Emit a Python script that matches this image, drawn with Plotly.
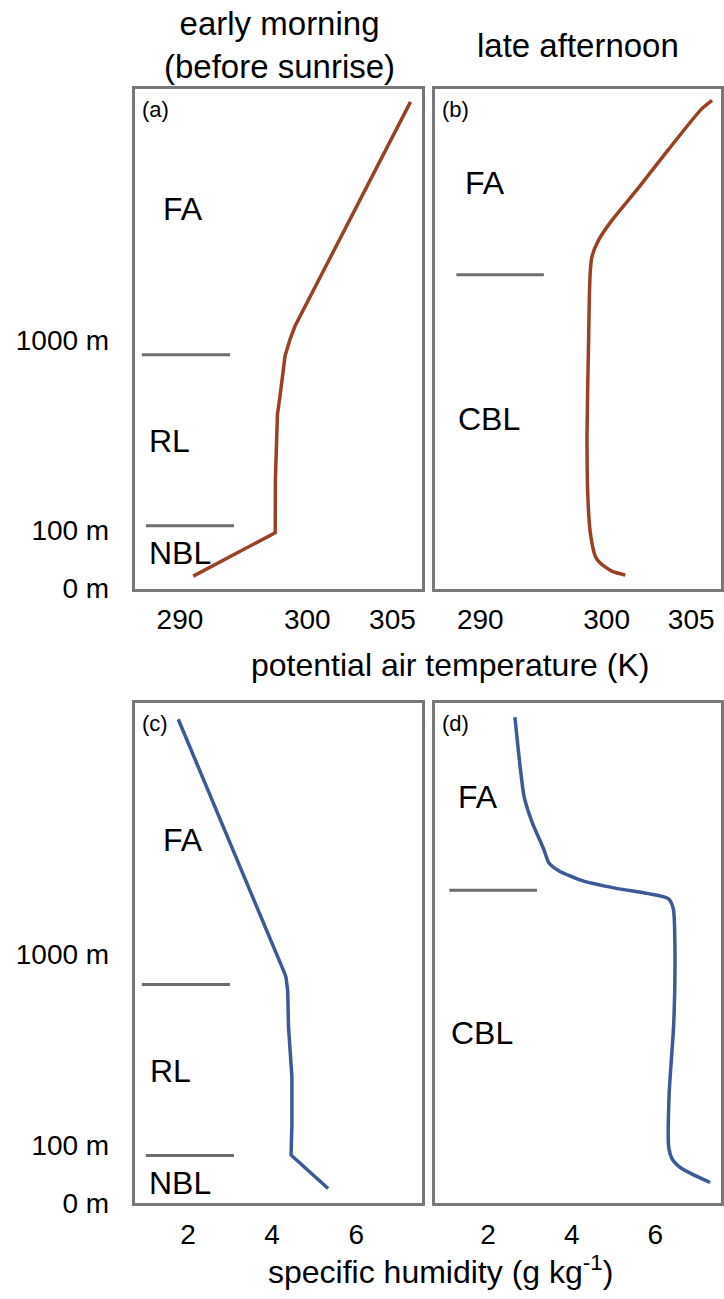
import plotly.graph_objects as go

W, H = 724, 1299

# ---- data (schematic units: height 0-100 spans each panel box) ----
# panel (a): potential temperature, early morning
theta_a = [293.31, 298.12, 298.13, 298.17, 298.25, 298.40, 298.51, 298.70, 298.99, 299.29, 306.06]
z_a = [2.5, 11.2, 21.6, 28.2, 34.8, 38.5, 41.4, 46.6, 49.9, 52.6, 97.4]
# panel (b): potential temperature, late afternoon
theta_b = [301.10, 300.31, 299.63, 299.33, 299.04, 298.90, 298.84, 298.94, 298.98,
           299.04, 299.13, 299.53, 300.31, 301.88, 303.64, 305.59, 306.23]
z_b = [2.7, 3.5, 5.1, 6.5, 11.1, 17.6, 30.8, 50.6, 58.5,
       63.8, 66.4, 69.8, 73.7, 80.2, 87.8, 95.9, 97.7]
# panel (c): specific humidity, early morning
q_c = [5.33, 4.45, 4.47, 4.47, 4.39, 4.37, 4.33, 4.31, 1.77]
z_c = [2.9, 9.6, 15.4, 25.3, 35.2, 42.5, 45.1, 45.7, 96.8]
# panel (d): specific humidity, late afternoon
q_d = [7.31, 6.63, 6.41, 6.32, 6.33, 6.44, 6.47, 6.43, 6.31, 5.83, 5.04,
       4.25, 3.69, 3.45, 3.33, 3.06, 2.86, 2.74, 2.64]
z_d = [4.1, 6.9, 8.7, 11.2, 21.8, 35.9, 50.0, 58.9, 60.9, 61.9, 63.0,
       64.5, 66.5, 68.1, 70.8, 76.0, 81.3, 89.2, 97.2]

# layer boundaries (height, x-start, x-end)
bound_a = [(46.8, 290.29, 295.47), (12.6, 290.53, 295.70)]
bound_b = [(62.8, 291.12, 296.29)]
bound_c = [(43.7, 0.905, 3.00), (9.5, 1.00, 3.095)]
bound_d = [(62.6, 1.071, 3.167)]

# layer labels (text, x, height)
labels_a = [("FA", 292.7, 76.0), ("RL", 291.94, 29.5), ("NBL", 292.53, 7.2)]
labels_b = [("FA", 292.82, 81.1), ("CBL", 293.06, 33.9)]
labels_c = [("FA", 1.88, 72.6), ("RL", 1.588, 26.4), ("NBL", 1.81, 4.0)]
labels_d = [("FA", 1.762, 81.3), ("CBL", 1.857, 34.1)]
panel_tags = ["(a)", "(b)", "(c)", "(d)"]

# tick labels
theta_tick_pos = [292.53, 300, 305]
theta_tick_text = ["290", "300", "305"]
q_tick_pos = [2, 4, 6]
q_tick_text = ["2", "4", "6"]
z_tick_pos = [0.0, 11.6, 49.7]
z_tick_text = ["0 m", "100 m", "1000 m"]

theta_range = [289.88, 306.76]
q_range = [0.738, 7.571]
z_range = [0, 100]

BROWN = "#9a4024"
BLUE = "#3c5a96"
GRAY = "#6e6e6e"
BOX = "#787878"
FONT = "Liberation Sans, Arial, Helvetica, sans-serif"

# panel boxes in pixels (left, right, top, bottom)
boxes = {1: (135, 423, 90, 596), 2: (436, 722, 90, 596),
         3: (135, 423, 712, 1218), 4: (436, 722, 712, 1218)}

fig = go.Figure()

panels = [
    (1, theta_a, z_a, BROWN, bound_a, labels_a, "linear"),
    (2, theta_b, z_b, BROWN, bound_b, labels_b, "spline"),
    (3, q_c, z_c, BLUE, bound_c, labels_c, "linear"),
    (4, q_d, z_d, BLUE, bound_d, labels_d, "spline"),
]

annotations = []
for i, xs, zs, col, bounds, labs, shape in panels:
    sx = "" if i == 1 else str(i)
    xr, yr = "x" + sx, "y" + sx
    fig.add_trace(go.Scatter(x=xs, y=zs, mode="lines", xaxis=xr, yaxis=yr,
                             line=dict(color=col, width=3.5, shape=shape, smoothing=0.6),
                             hoverinfo="skip", showlegend=False))
    for (zb, x0, x1) in bounds:
        fig.add_trace(go.Scatter(x=[x0, x1], y=[zb, zb], mode="lines", xaxis=xr, yaxis=yr,
                                 line=dict(color=GRAY, width=3), hoverinfo="skip",
                                 showlegend=False))
    for (t, x, z) in labs:
        annotations.append(dict(text=t, x=x, y=z, xref=xr, yref=yr, showarrow=False,
                                xanchor="center", yanchor="middle",
                                font=dict(size=32, color="black", family=FONT)))
    l, r, t_, b = boxes[i]
    annotations.append(dict(text=panel_tags[i - 1], x=(l + 5) / W, y=1 - (t_ + 21) / H,
                            xref="paper", yref="paper", showarrow=False,
                            xanchor="left", yanchor="middle",
                            font=dict(size=22, color="black", family=FONT)))

# titles and axis titles
annotations += [
    dict(text="early morning<br>(before sunrise)", x=280 / W, y=1 - 46 / H, xref="paper",
         yref="paper", showarrow=False, xanchor="center", yanchor="middle",
         font=dict(size=33, color="black", family=FONT)),
    dict(text="late afternoon", x=579 / W, y=1 - 46 / H, xref="paper", yref="paper",
         showarrow=False, xanchor="center", yanchor="middle",
         font=dict(size=33, color="black", family=FONT)),
    dict(text="potential air temperature (K)", x=451 / W, y=1 - 673 / H, xref="paper",
         yref="paper", showarrow=False, xanchor="center", yanchor="middle",
         font=dict(size=32, color="black", family=FONT)),
    dict(text="specific humidity (g kg<sup>-1</sup>)", x=441 / W, y=1 - 1286 / H,
         xref="paper", yref="paper", showarrow=False, xanchor="center", yanchor="middle",
         font=dict(size=32, color="black", family=FONT)),
]

layout = dict(width=W, height=H, margin=dict(l=0, r=0, t=0, b=0),
              paper_bgcolor="white", plot_bgcolor="white",
              font=dict(family=FONT, color="black"), annotations=annotations,
              showlegend=False)

for i in range(1, 5):
    sx = "" if i == 1 else str(i)
    l, r, t_, b = boxes[i]
    xdom = [l / W, r / W]
    ydom = [1 - b / H, 1 - t_ / H]
    if i <= 2:
        xtv, xtt, xrng = theta_tick_pos, theta_tick_text, theta_range
    else:
        xtv, xtt, xrng = q_tick_pos, q_tick_text, q_range
    layout["xaxis" + sx] = dict(domain=xdom, range=xrng, anchor="y" + sx,
                                showgrid=False, zeroline=False, showline=True,
                                mirror=True, linecolor=BOX, linewidth=3,
                                tickmode="array", tickvals=xtv, ticktext=xtt,
                                ticks="outside", ticklen=4, tickcolor="rgba(0,0,0,0)",
                                tickfont=dict(size=28, family=FONT, color="black"),
                                fixedrange=True)
    layout["yaxis" + sx] = dict(domain=ydom, range=z_range, anchor="x" + sx,
                                showgrid=False, zeroline=False, showline=True,
                                mirror=True, linecolor=BOX, linewidth=3,
                                tickmode="array", tickvals=z_tick_pos, ticktext=z_tick_text,
                                showticklabels=(i in (1, 3)),
                                ticks="outside", ticklen=17, tickcolor="rgba(0,0,0,0)",
                                tickfont=dict(size=28, family=FONT, color="black"),
                                fixedrange=True)

fig.update_layout(**layout)
fig.write_html("out.html", config={"displayModeBar": False})

# remove the browser's default page margin so the figure sits at (0, 0)
with open("out.html", "r", encoding="utf-8") as f:
    html = f.read()
html = html.replace("<head>", "<head><style>html,body{margin:0;padding:0;overflow:hidden;}</style>", 1)
with open("out.html", "w", encoding="utf-8") as f:
    f.write(html)
